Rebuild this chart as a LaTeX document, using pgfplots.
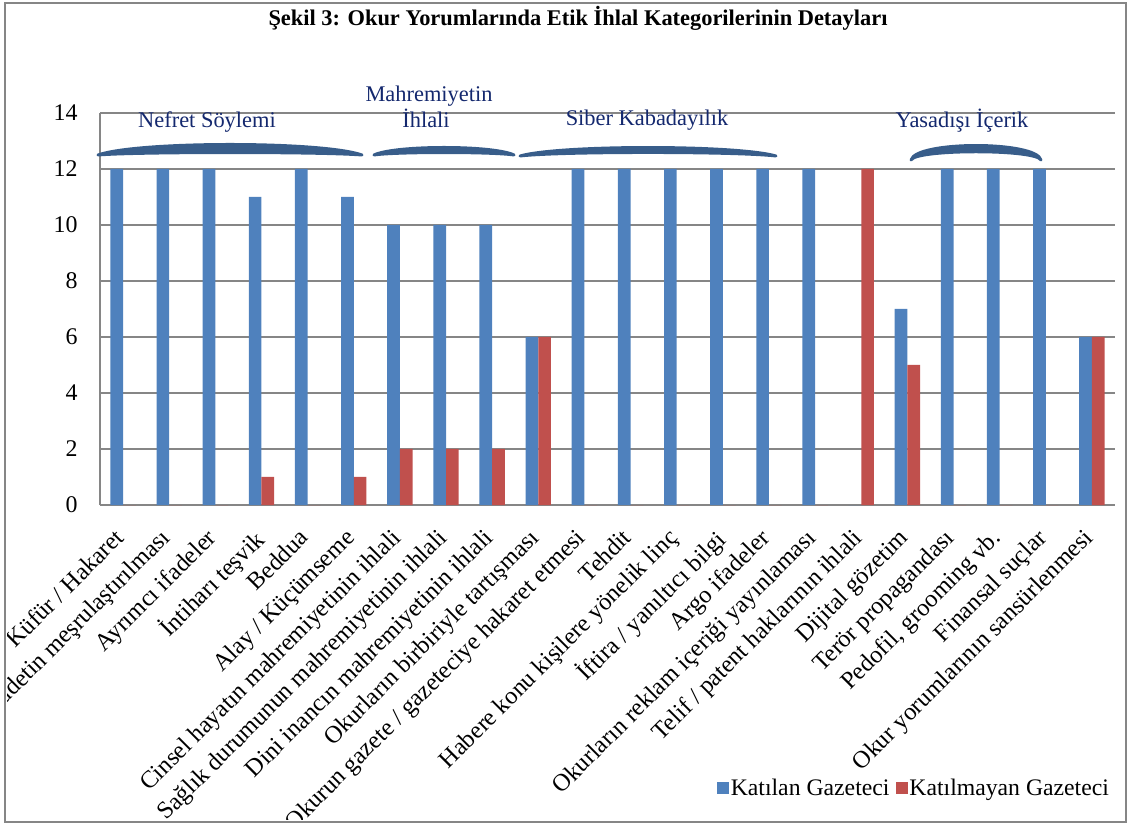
\documentclass[border=0pt]{standalone}
\usepackage{fontspec}
\setmainfont{Liberation Serif}
\usepackage{pgfplots}
\pgfplotsset{compat=1.18}
\definecolor{bblue}{RGB}{79,129,189}
\definecolor{bred}{RGB}{192,80,77}
\definecolor{gridgray}{RGB}{134,134,134}
\definecolor{bracecol}{RGB}{56,93,138}
\definecolor{annnavy}{RGB}{20,40,110}
\begin{document}
\begin{tikzpicture}
\useasboundingbox (0,0) rectangle (1128bp,825bp);
\begin{scope}
\clip (7bp,5bp) rectangle (1124bp,820bp);
\begin{axis}[
  at={(100bp,320bp)}, anchor=south west,
  scale only axis, width=1015bp, height=392bp,
  xmin=-0.5, xmax=21.5, ymin=0, ymax=14,
  ytick={0,2,...,14},
  yticklabels={0,2,4,6,8,10,12,14},
  xtick={0,...,21},
  xticklabels={Küfür / Hakaret, Şiddetin meşrulaştırılması, Ayrımcı ifadeler, İntiharı teşvik, Beddua, Alay / Küçümseme, Cinsel hayatın mahremiyetinin ihlali, Sağlık durumunun mahremiyetinin ihlali, Dini inancın mahremiyetinin ihlali, Okurların birbiriyle tartışması, Okurun gazete / gazeteciye hakaret etmesi, Tehdit, Habere konu kişilere yönelik linç, İftira / yanıltıcı bilgi, Argo ifadeler, Okurların reklam içeriği yayınlaması, Telif / patent haklarının ihlali, Dijital gözetim, Terör propagandası, {Pedofil, grooming vb.}, Finansal suçlar, Okur yorumlarının sansürlenmesi},
  ybar=0pt, bar width=12.7bp,
  axis x line*=bottom, axis y line*=left,
  axis line style={-, gridgray, line width=1.3bp},
  ymajorgrids, grid style={gridgray, line width=1.3bp},
  major tick length=0pt,
  /pgf/number format/assume math mode=true,
  yticklabel style={font=\fontsize{24}{26}\selectfont, xshift=-19bp},
  xticklabel style={xshift=-10bp, yshift=-22bp, rotate=45, anchor=north east, inner sep=0pt, font=\fontsize{24.5}{26}\selectfont},
  legend style={at={(0.608,-0.722)}, anchor=west, draw=none, fill=none, font=\fontsize{23.8}{26}\selectfont, inner sep=0pt, nodes={inner sep=1.5bp}, /tikz/every even column/.append style={column sep=5bp}},
  legend columns=2,
  legend image code/.code={\fill[#1] (0bp,-6bp) rectangle (12bp,6bp);},
  clip=false,
]
\addplot[fill=bblue, draw=none] coordinates {(0,12) (1,12) (2,12) (3,11) (4,12) (5,11) (6,10) (7,10) (8,10) (9,6) (10,12) (11,12) (12,12) (13,12) (14,12) (15,12) (16,0) (17,7) (18,12) (19,12) (20,12) (21,6)};
\addlegendentry{Katılan Gazeteci}
\addplot[fill=bred, draw=none] coordinates {(0,0) (1,0) (2,0) (3,1) (4,0) (5,1) (6,2) (7,2) (8,2) (9,6) (10,0) (11,0) (12,0) (13,0) (14,0) (15,0) (16,12) (17,5) (18,0) (19,0) (20,0) (21,6)};
\addlegendentry{Katılmayan Gazeteci}
\end{axis}
\end{scope}
% annotation braces (crescent shapes)
\begin{scope}[line width=3bp, line join=round]
\filldraw[bracecol] (98bp,670bp) .. controls (138bp,684bp) and (322bp,684bp) .. (362bp,670bp)
   .. controls (322bp,673.3bp) and (138bp,673.3bp) .. cycle;
\filldraw[bracecol] (374bp,670bp) .. controls (395bp,680bp) and (493bp,680bp) .. (514bp,670bp)
   .. controls (493bp,673.3bp) and (395bp,673.3bp) .. cycle;
\filldraw[bracecol] (520bp,669bp) .. controls (560bp,680.3bp) and (736bp,680.3bp) .. (776bp,669bp)
   .. controls (736bp,673.7bp) and (560bp,673.7bp) .. cycle;
\filldraw[bracecol] (911bp,665bp) .. controls (916bp,684.3bp) and (1036bp,684.3bp) .. (1041bp,665bp)
   .. controls (1036bp,676bp) and (916bp,676bp) .. cycle;
\end{scope}
\begin{scope}[every node/.style={text=annnavy, font=\fontsize{22.5}{26}\selectfont, anchor=base}]
\node at (207bp,697bp) {Nefret Söylemi};
\node at (429bp,723bp) {Mahremiyetin};
\node at (426bp,697bp) {İhlali};
\node at (647bp,699bp) {Siber Kabadayılık};
\node at (962bp,697bp) {Yasadışı İçerik};
\end{scope}
\node[font=\bfseries\fontsize{22.5}{24}\selectfont, anchor=base] at (578bp,799bp) {Şekil 3: Okur Yorumlarında Etik İhlal Kategorilerinin Detayları};
\draw[gridgray, line width=1.5bp] (5bp,3bp) rectangle (1126bp,822bp);
\end{tikzpicture}
\end{document}
